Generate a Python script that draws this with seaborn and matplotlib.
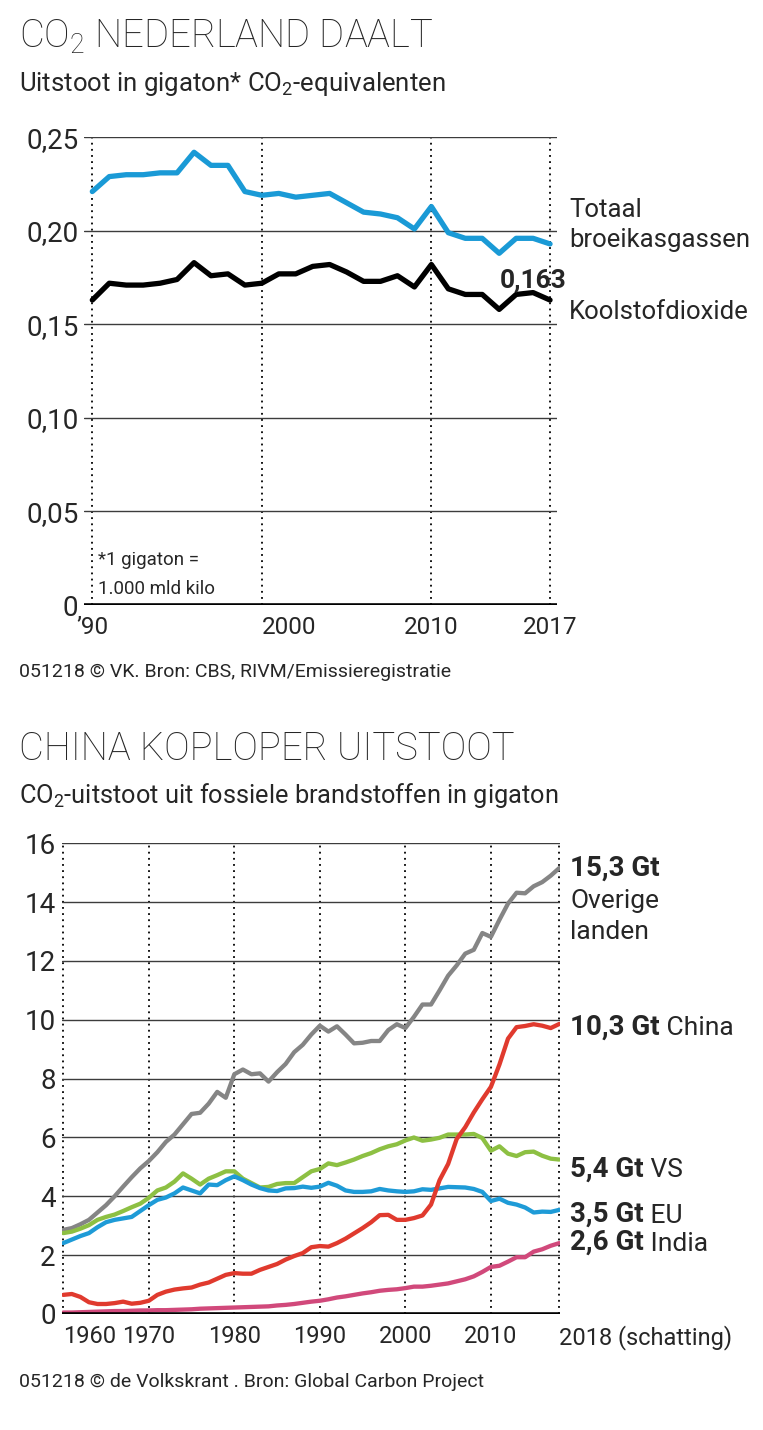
import pandas as pd
import matplotlib
matplotlib.use("Agg")
import matplotlib.pyplot as plt
import seaborn as sns

# ---------------------------------------------------------
# Data: CO2 Nederland (gigaton CO2-equivalenten)
# ---------------------------------------------------------
nl_jaren = list(range(1990, 2018))
nl_totaal = [0.221, 0.229, 0.230, 0.230, 0.231, 0.231, 0.242, 0.235, 0.235, 0.221,
             0.219, 0.220, 0.218, 0.219, 0.220, 0.215, 0.210, 0.209, 0.207, 0.201,
             0.213, 0.199, 0.196, 0.196, 0.188, 0.196, 0.196, 0.193]
nl_co2 = [0.163, 0.172, 0.171, 0.171, 0.172, 0.174, 0.183, 0.176, 0.177, 0.171,
          0.172, 0.177, 0.177, 0.181, 0.182, 0.178, 0.173, 0.173, 0.176, 0.170,
          0.182, 0.169, 0.166, 0.166, 0.158, 0.166, 0.167, 0.163]
nl_yticks = [0, 0.05, 0.10, 0.15, 0.20, 0.25]
nl_xticks = [1990, 2000, 2010, 2017]
nl_xlabels = ["\u201990", "2000", "2010", "2017"]

# ---------------------------------------------------------
# Data: CO2 uit fossiele brandstoffen (gigaton)
# ---------------------------------------------------------
w_jaren = list(range(1960, 2019))
overige = [2.86, 2.92, 3.05, 3.20, 3.45, 3.70, 4.00, 4.33, 4.65, 4.95,
           5.20, 5.50, 5.85, 6.10, 6.45, 6.80, 6.84, 7.15, 7.55, 7.35,
           8.15, 8.31, 8.15, 8.18, 7.90, 8.22, 8.50, 8.90, 9.15, 9.50,
           9.80, 9.60, 9.78, 9.50, 9.20, 9.22, 9.28, 9.28, 9.65, 9.85,
           9.72, 10.10, 10.52, 10.52, 11.00, 11.50, 11.85, 12.25, 12.38, 12.95,
           12.82, 13.40, 13.95, 14.32, 14.30, 14.54, 14.68, 14.90, 15.16]
china = [0.65, 0.68, 0.58, 0.40, 0.34, 0.34, 0.37, 0.42, 0.35, 0.38,
         0.45, 0.65, 0.76, 0.83, 0.87, 0.90, 1.00, 1.07, 1.20, 1.33,
         1.39, 1.37, 1.37, 1.50, 1.60, 1.70, 1.85, 1.97, 2.07, 2.27,
         2.31, 2.29, 2.41, 2.56, 2.74, 2.92, 3.12, 3.36, 3.37, 3.20,
         3.20, 3.26, 3.35, 3.72, 4.55, 5.10, 5.95, 6.35, 6.85, 7.30,
         7.72, 8.48, 9.36, 9.75, 9.79, 9.85, 9.80, 9.72, 9.86]
vs = [2.75, 2.80, 2.90, 3.02, 3.20, 3.30, 3.38, 3.50, 3.63, 3.75,
      3.95, 4.20, 4.30, 4.50, 4.78, 4.60, 4.40, 4.60, 4.72, 4.85,
      4.85, 4.60, 4.45, 4.30, 4.32, 4.42, 4.45, 4.45, 4.65, 4.85,
      4.93, 5.12, 5.06, 5.15, 5.25, 5.37, 5.47, 5.60, 5.70, 5.77,
      5.90, 6.00, 5.89, 5.93, 5.99, 6.10, 6.10, 6.10, 6.12, 5.98,
      5.55, 5.70, 5.45, 5.37, 5.50, 5.52, 5.38, 5.28, 5.25]
eu = [2.41, 2.53, 2.65, 2.75, 2.95, 3.12, 3.20, 3.25, 3.30, 3.50,
      3.70, 3.88, 3.96, 4.10, 4.30, 4.20, 4.10, 4.40, 4.38, 4.55,
      4.68, 4.55, 4.40, 4.28, 4.20, 4.18, 4.27, 4.28, 4.33, 4.29,
      4.33, 4.46, 4.36, 4.20, 4.15, 4.15, 4.17, 4.25, 4.20, 4.17,
      4.15, 4.17, 4.24, 4.22, 4.27, 4.32, 4.31, 4.30, 4.25, 4.15,
      3.84, 3.92, 3.78, 3.72, 3.62, 3.45, 3.48, 3.47, 3.54]
india = [0.05, 0.05, 0.06, 0.07, 0.08, 0.09, 0.10, 0.10, 0.11, 0.12,
         0.12, 0.13, 0.13, 0.14, 0.15, 0.16, 0.18, 0.19, 0.20, 0.21,
         0.22, 0.23, 0.24, 0.25, 0.26, 0.29, 0.31, 0.34, 0.38, 0.42,
         0.45, 0.50, 0.56, 0.60, 0.65, 0.70, 0.74, 0.79, 0.82, 0.84,
         0.88, 0.93, 0.93, 0.96, 1.00, 1.04, 1.11, 1.18, 1.28, 1.43,
         1.60, 1.64, 1.78, 1.93, 1.93, 2.12, 2.20, 2.32, 2.41]
w_reeksen = ["Overige landen", "VS", "EU", "India", "China"]
w_yticks = list(range(0, 17, 2))
w_xticks = [1960, 1970, 1980, 1990, 2000, 2010, 2018]
w_xlabels = ["1960", "1970", "1980", "1990", "2000", "2010", "2018 (schatting)"]
w_eind = ["15,3 Gt", "10,3 Gt", "5,4 Gt", "3,5 Gt", "2,6 Gt"]
w_namen = ["", " China", " VS", " EU", " India"]

# ---------------------------------------------------------
# Style
# ---------------------------------------------------------
sns.set_theme(style="white")
plt.rcParams["font.family"] = ["Roboto", "DejaVu Sans"]
plt.rcParams["mathtext.default"] = "regular"

W, H = 763, 1430
fig = plt.figure(figsize=(W / 100, H / 100), dpi=100)


def rect(l, t, r, b):
    return [l / W, 1 - b / H, (r - l) / W, (b - t) / H]


def style_axes(ax, xsize):
    for s in ax.spines.values():
        s.set_visible(False)
    ax.set_axisbelow(True)
    ax.yaxis.grid(True, color="#3c3c3c", lw=1.0)
    ax.xaxis.grid(True, color="black", lw=1.3, ls=(0, (1, 2.4)))
    ax.axhline(0, color="black", lw=2.6, zorder=4)
    ax.tick_params(length=0)
    ax.tick_params(axis="y", labelsize=20, pad=4)
    ax.tick_params(axis="x", labelsize=xsize, pad=8)
    ax.set_xlabel("")
    ax.set_ylabel("")


# ---------------------------------------------------------
# Chart 1: CO2 Nederland
# ---------------------------------------------------------
fig.text(19 / W, 1 - 48 / H, "CO$_2$ NEDERLAND DAALT", fontsize=27.5,
         fontweight="light", va="baseline")
fig.text(19 / W, 1 - 91 / H, "Uitstoot in gigaton* CO$_2$-equivalenten",
         fontsize=18.5, va="baseline")

ax1 = fig.add_axes(rect(84, 137.3, 557, 605))
df_nl = pd.DataFrame({
    "jaar": nl_jaren * 2,
    "waarde": nl_totaal + nl_co2,
    "reeks": ["Totaal"] * len(nl_jaren) + ["CO2"] * len(nl_jaren),
})
sns.lineplot(data=df_nl, x="jaar", y="waarde", hue="reeks",
             hue_order=["Totaal", "CO2"],
             palette={"Totaal": "#1a9ad6", "CO2": "#000000"},
             linewidth=3.8, legend=False, ax=ax1, zorder=3,
             solid_capstyle="round")
ax1.set_xlim(1989.51, 2017.41)
ax1.set_ylim(0, 0.25)
ax1.set_yticks(nl_yticks, ["0" if v == 0 else f"{v:.2f}".replace(".", ",")
                           for v in nl_yticks])
ax1.set_xticks(nl_xticks, nl_xlabels)
style_axes(ax1, 17.5)
for lab, ha in zip(ax1.get_xticklabels(), ["center", "left", "center", "center"]):
    lab.set_ha(ha)

ax1.annotate(f"{nl_co2[-1]:.3f}".replace(".", ","),
             xy=(nl_jaren[-1], nl_co2[-1]), xytext=(12.2, 9.6),
             textcoords="offset points", ha="right", va="baseline",
             fontsize=19, fontweight="bold")
for txt, y in [("Totaal", 0.2075), ("broeikasgassen", 0.1914),
               ("Koolstofdioxide", 0.1528)]:
    ax1.annotate(txt, xy=(1, y), xycoords=("axes fraction", "data"),
                 xytext=(8.6, 0), textcoords="offset points",
                 va="baseline", fontsize=18.5, annotation_clip=False)
ax1.text(0.03, 0.0855, "*1 gigaton =", transform=ax1.transAxes,
         fontsize=13.5, va="baseline")
ax1.text(0.03, 0.0235, "1.000 mld kilo", transform=ax1.transAxes,
         fontsize=13.5, va="baseline")

fig.text(19 / W, 1 - 677 / H, "051218 \u00a9 VK. Bron: CBS, RIVM/Emissieregistratie",
         fontsize=14, va="baseline")

# ---------------------------------------------------------
# Chart 2: China koploper uitstoot
# ---------------------------------------------------------
fig.text(19 / W, 1 - 760 / H, "CHINA KOPLOPER UITSTOOT", fontsize=27.5,
         fontweight="light", va="baseline")
fig.text(19 / W, 1 - 803 / H,
         "CO$_2$-uitstoot uit fossiele brandstoffen in gigaton",
         fontsize=18.3, va="baseline")

ax2 = fig.add_axes(rect(62, 843.3, 560, 1314))
df_w = pd.DataFrame({
    "jaar": w_jaren * 5,
    "gt": overige + vs + eu + india + china,
    "reeks": sum([[r] * len(w_jaren) for r in w_reeksen], []),
})
kleuren = {"Overige landen": "#858585", "VS": "#8dc043", "EU": "#1e9bd7",
           "India": "#d1497b", "China": "#e03a2e"}
sns.lineplot(data=df_w, x="jaar", y="gt", hue="reeks", hue_order=w_reeksen,
             palette=kleuren, linewidth=3.1, legend=False, ax=ax2, zorder=3,
             solid_capstyle="round")
ax2.set_xlim(1959.85, 2018.08)
ax2.set_ylim(0, 16)
ax2.set_yticks(w_yticks, [str(v) for v in w_yticks])
ax2.set_xticks(w_xticks, w_xlabels)
style_axes(ax2, 17)
ax2.tick_params(axis="y", pad=4.5)
for i, lab in enumerate(ax2.get_xticklabels()):
    lab.set_ha("left" if i in (0, len(w_xticks) - 1) else "center")

# eindlabels rechts van de grafiek
label_y = [14.89, 9.51, 4.68, 3.14, 2.18]
for vet, naam, y in zip(w_eind, w_namen, label_y):
    t = ax2.annotate(vet, xy=(1, y), xycoords=("axes fraction", "data"),
                     xytext=(7.2, 0), textcoords="offset points",
                     va="baseline", fontsize=20, fontweight="bold",
                     annotation_clip=False)
    if naam:
        ax2.annotate(naam, xy=(1, 0), xycoords=t, va="bottom", ha="left",
                     fontsize=19)
for txt, dy in [("Overige", -23), ("landen", -45.4)]:
    ax2.annotate(txt, xy=(1, label_y[0]), xycoords=("axes fraction", "data"),
                 xytext=(7.2, dy), textcoords="offset points",
                 va="baseline", fontsize=19, annotation_clip=False)

fig.text(19 / W, 1 - 1387 / H,
         "051218 \u00a9 de Volkskrant . Bron: Global Carbon Project",
         fontsize=14, va="baseline")

fig.savefig("out.png", dpi=100)
